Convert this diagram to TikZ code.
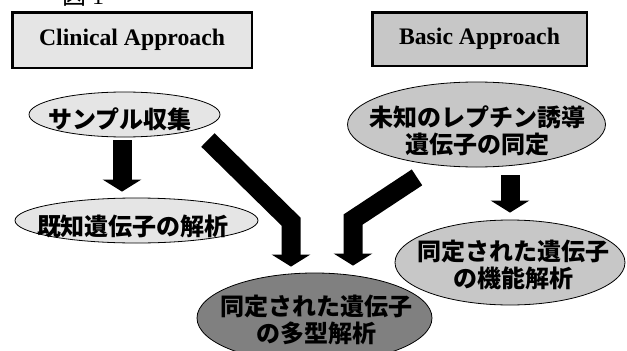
\documentclass[tikz,border=0pt]{standalone}
\usepackage{fontspec}
\setmainfont{Liberation Serif}
\newfontfamily\jpfont{Noto Sans CJK JP}
\usetikzlibrary{arrows.meta,shapes.geometric}
\definecolor{litegray}{gray}{0.9}
\definecolor{midgray}{gray}{0.78}
\definecolor{darkgray}{gray}{0.5}

\begin{document}
\begin{tikzpicture}[x=1pt, y=-1pt,
	approach/.style={draw, line width=2.5pt, inner sep=0pt, font=\fontsize{23.7pt}{28pt}\selectfont\bfseries},
	oval/.style={ellipse, draw, line width=.8pt, inner sep=0pt},
	jp/.style={align=center, inner sep=0pt, font=\jpfont\bfseries\fontsize{24pt}{27pt}\selectfont},
	fat/.style={line width=19pt, line join=miter, -{Triangle[length=12pt, width=38pt]}}]
	\useasboundingbox (0,0) rectangle (627,351);
	
	% Figure label (cut by the top edge)
	\node[anchor=base west, inner sep=0pt, font=\fontsize{24pt}{28pt}\selectfont] (figlabel) at (62,4.5) {{\jpfont 図} 1};
	
	% Draw the two approach boxes
	\node[approach, fill=litegray, minimum width=239.5pt, minimum height=55.5pt] (clinical) at (132,40) {Clinical Approach};
	\node[approach, fill=midgray, minimum width=214.5pt, minimum height=53.5pt] (basic) at (479.5,39) {Basic Approach};
	
	% Draw the ellipses
	\node[oval, fill=litegray, minimum width=191pt, minimum height=45pt] (sample) at (124.5,114.5) {};
	\node[oval, fill=litegray, minimum width=243pt, minimum height=45pt] (kiti) at (136.5,220.5) {};
	\node[oval, fill=midgray, minimum width=258pt, minimum height=85pt] (unknown) at (476.5,124.5) {};
	\node[oval, fill=midgray, minimum width=230pt, minimum height=85pt] (kinou) at (510,262.5) {};
	\node[oval, fill=darkgray, minimum width=235pt, minimum height=90pt] (poly) at (314.5,318) {};
	
	% Texts in the ellipses
	\node[jp] (sampleT) at (120,119) {サンプル収集};
	\node[jp] (kitiT) at (133,226) {既知遺伝子の解析};
	\node[jp] (unknownT) at (477,131) {未知のレプチン誘導\\遺伝子の同定};
	\node[jp] (polyT) at (316,320) {同定された遺伝子\\の多型解析};
	\node[jp] (kinouT) at (513,265) {同定された遺伝子\\の機能解析};
	
	% Block arrows
	\draw[fat] ([xshift=-2.5pt,yshift=-3pt]sample.south) -- ([xshift=-14.5pt,yshift=6pt]kiti.north);
	\draw[fat] ([xshift=33.5pt,yshift=-8pt]unknown.south) -- ([yshift=7pt]kinou.north);
	\draw[fat] ([xshift=-12.5pt,yshift=-25.5pt]sample.east) -- ([xshift=-23.5pt,yshift=51pt]poly.north) -- ([xshift=-23.5pt,yshift=6pt]poly.north);
	\draw[fat] ([xshift=-59.5pt,yshift=-10pt]unknown.south) -- ([xshift=38.5pt,yshift=53pt]poly.north) -- ([xshift=38.5pt,yshift=7pt]poly.north);
	
\end{tikzpicture}
\end{document}
